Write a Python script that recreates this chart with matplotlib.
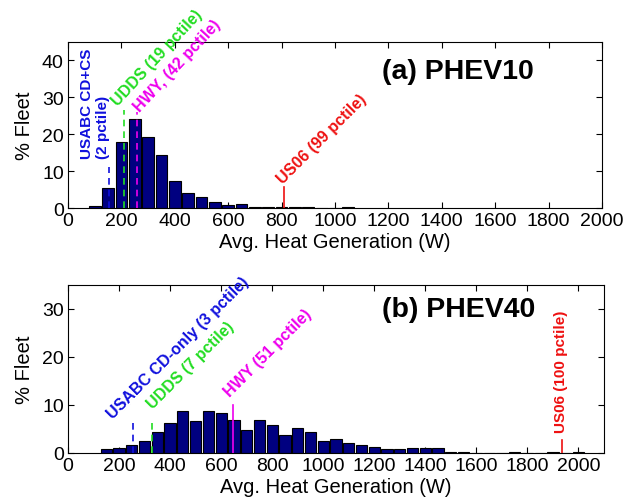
import matplotlib
matplotlib.use("Agg")
import matplotlib.pyplot as plt
import numpy as np

plt.rcParams['font.family'] = ['Liberation Sans', 'DejaVu Sans']

# ---- data ----
bins10 = [100, 150, 200, 250, 300, 350, 400, 450, 500, 550, 600, 650, 700,
          750, 800, 850, 900, 950, 1000, 1050]
pct10 = [0.6, 5.5, 17.9, 24.2, 19.2, 14.4, 7.3, 4.2, 2.9, 1.7, 0.9, 1.0, 0.4,
         0.25, 0.4, 0.4, 0.4, 0.0, 0.0, 0.4]

bins40 = [150, 200, 250, 300, 350, 400, 450, 500, 550, 600, 650, 700, 750,
          800, 850, 900, 950, 1000, 1050, 1100, 1150, 1200, 1250, 1300, 1350,
          1400, 1450, 1500, 1550, 1600, 1650, 1700, 1750, 1800, 1850, 1900,
          1950, 2000]
pct40 = [0.76, 1.1, 1.7, 2.6, 4.4, 6.2, 8.7, 6.6, 8.7, 8.4, 6.9, 4.8, 6.9,
         5.9, 3.8, 5.2, 4.4, 2.6, 2.9, 2.1, 1.7, 1.3, 0.8, 0.8, 1.1,
         1.0, 1.1, 0.3, 0.3, 0.0, 0.0, 0.0, 0.3, 0.0, 0.0, 0.3,
         0.0, 0.3]

xticks = [0, 200, 400, 600, 800, 1000, 1200, 1400, 1600, 1800, 2000]

# markers: (label, x, line top, line style, colour, text x, text y, rotation)
markers10 = [
    ("USABC CD+CS\n(2 pctile)", 155, 11.0, (0, (4, 3)), '#1010dd', 100, 13.5, 90),
    ("UDDS (19 pctile)", 210, 26.5, (0, (4, 3)), '#22dd22', 196, 27.0, 47),
    ("HWY, (42 pctile)", 259, 26.0, (0, (4, 3)), '#ee00ee', 279, 25.5, 47),
    ("US06 (99 pctile)", 808, 5.6, '-', '#ee1111', 811, 5.9, 45),
]
markers40 = [
    ("USABC CD-only (3 pctile)", 256, 7.0, (0, (4, 3)), '#1010dd', 184, 6.7, 45),
    ("UDDS (7 pctile)", 328, 7.0, (0, (4, 3)), '#22dd22', 341, 8.7, 45),
    ("HWY (51 pctile)", 647, 9.9, '-', '#ee00ee', 643, 11.2, 45),
    ("US06 (100 pctile)", 1937, 2.8, '-', '#ee1111', 1933, 4.3, 90),
]

fig = plt.figure(figsize=(6.24, 5.02), dpi=100)
ax1 = fig.add_axes([68/624, 1-209/502, 534/624, 166/502])
ax2 = fig.add_axes([68/624, 1-454/502, 536/624, 168/502])


def style(ax, xmax, ymax, yticks):
    ax.set_xlim(0, xmax)
    ax.set_ylim(0, ymax)
    ax.set_xticks(xticks)
    ax.set_yticks(yticks)
    ax.tick_params(direction='in', top=True, right=True, length=4,
                   labelsize=14, pad=3)
    for s in ax.spines.values():
        s.set_linewidth(0.8)
    ax.set_xlabel("Avg. Heat Generation (W)", fontsize=14.5, labelpad=2)
    ax.set_ylabel("% Fleet", fontsize=14.5, labelpad=6)


def draw(ax, bins, pct, markers, title, tpos):
    ax.bar(bins, pct, width=44, color='#000080', edgecolor='black',
           linewidth=0.8, zorder=2)
    for (lab, x, top, ls, col, tx, ty, rot) in markers:
        ax.plot([x, x], [0, top], color=col, linestyle=ls, linewidth=1.2,
                zorder=3)
        if rot == 90:
            ax.text(tx, ty, lab, color=col, rotation=90, ha='center',
                    va='bottom', fontsize=11, fontweight='bold',
                    multialignment='left', clip_on=False)
        else:
            ax.text(tx, ty, lab, color=col, rotation=rot,
                    rotation_mode='anchor', ha='left', va='bottom',
                    fontsize=11.5, fontweight='bold', clip_on=False)
    ax.text(tpos[0], tpos[1], title, transform=ax.transAxes, ha='center',
            va='center', fontsize=20.5, fontweight='bold')


style(ax1, 2000, 45, [0, 10, 20, 30, 40])
draw(ax1, bins10, pct10, markers10, "(a) PHEV10", (0.73, 0.825))
style(ax2, 2100, 35, [0, 10, 20, 30])
draw(ax2, bins40, pct40, markers40, "(b) PHEV40", (0.728, 0.855))

fig.savefig("out.png", dpi=100)
